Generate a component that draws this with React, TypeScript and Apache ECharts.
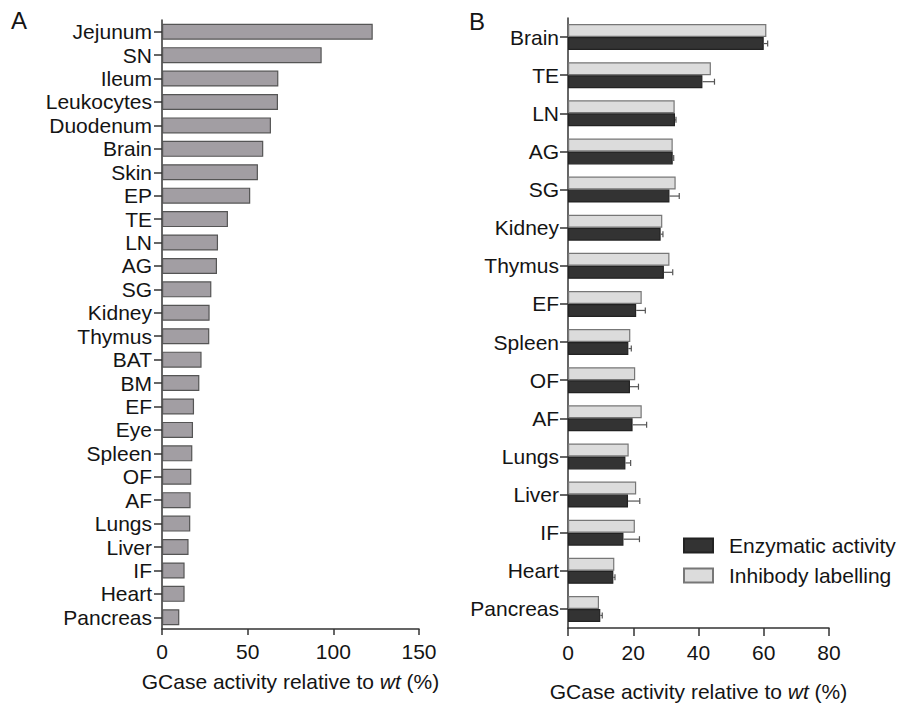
import React, { useEffect, useRef } from "react";
import * as echarts from "echarts";

const catsA = ["Jejunum", "SN", "Ileum", "Leukocytes", "Duodenum", "Brain", "Skin", "EP", "TE", "LN", "AG", "SG", "Kidney", "Thymus", "BAT", "BM", "EF", "Eye", "Spleen", "OF", "AF", "Lungs", "Liver", "IF", "Heart", "Pancreas"];
const valsA = [123, 93.2, 67.9, 67.7, 63.6, 59.1, 56.0, 51.5, 38.5, 32.7, 32.1, 28.8, 27.8, 27.6, 23.1, 21.8, 18.7, 18.1, 17.7, 17.1, 16.7, 16.5, 15.5, 13.2, 13.2, 10.1];

const catsB = ["Brain", "TE", "LN", "AG", "SG", "Kidney", "Thymus", "EF", "Spleen", "OF", "AF", "Lungs", "Liver", "IF", "Heart", "Pancreas"];
const enzymatic = [60.0, 41.2, 32.8, 32.1, 31.1, 28.4, 29.4, 20.9, 18.5, 19.0, 19.8, 17.6, 18.4, 17.0, 13.9, 9.9];
const enzymaticErr = [1.2, 3.7, 0.3, 0.3, 3.0, 0.7, 2.7, 2.8, 0.9, 2.6, 4.3, 1.6, 3.6, 4.9, 0.5, 0.6];
const inhibody = [60.8, 43.8, 32.7, 32.1, 33.0, 28.9, 31.1, 22.6, 19.1, 20.6, 22.6, 18.6, 20.9, 20.5, 14.2, 9.5];

const ticksA = [0, 50, 100, 150];
const ticksB = [0, 20, 40, 60, 80];

const FONT = "'Liberation Sans', Arial, Helvetica, sans-serif";
const TXT = "#141414";
const BAR_B = 13;

export default function App() {
  const ref = useRef<HTMLDivElement>(null);
  useEffect(() => {
    if (!ref.current) return;
    const chart = echarts.init(ref.current, undefined, { renderer: "svg" });
    const axisLine = { show: true, lineStyle: { color: "#333", width: 1.5 } };
    const axisTickY = { show: true, alignWithLabel: true, length: 8, lineStyle: { color: "#333", width: 1.5 } };
    const nameRich = {
      n: { fontSize: 21, fontFamily: FONT, color: TXT },
      i: { fontSize: 21, fontFamily: FONT, color: TXT, fontStyle: "italic" as const },
    };
    const title = "{n|GCase activity relative to }{i|wt}{n| (%)}";
    chart.setOption({
      animation: false,
      backgroundColor: "#ffffff",
      textStyle: { fontFamily: FONT },
      grid: [
        { left: 162, top: 20, width: 257, height: 609 },
        { left: 568, top: 18, width: 261, height: 615 },
      ],
      xAxis: [
        {
          gridIndex: 0, type: "value", min: ticksA[0], max: ticksA[ticksA.length - 1], interval: 50,
          axisLine, axisTick: { show: true, length: 6, lineStyle: { color: "#333", width: 1.5 } },
          splitLine: { show: false },
          axisLabel: { fontSize: 21, color: TXT, fontFamily: FONT, margin: 12 },
          name: title, nameLocation: "middle", nameGap: 42, nameTextStyle: { rich: nameRich },
        },
        {
          gridIndex: 1, type: "value", min: ticksB[0], max: ticksB[ticksB.length - 1], interval: 20,
          axisLine, axisTick: { show: true, length: 8, lineStyle: { color: "#333", width: 1.5 } },
          splitLine: { show: false },
          axisLabel: { fontSize: 21, color: TXT, fontFamily: FONT, margin: 14 },
          name: title, nameLocation: "middle", nameGap: 53, nameTextStyle: { rich: nameRich },
        },
      ],
      yAxis: [
        {
          gridIndex: 0, type: "category", data: catsA, inverse: true,
          axisLine, axisTick: axisTickY,
          axisLabel: { interval: 0, fontSize: 21, color: TXT, fontFamily: FONT, margin: 10 },
        },
        {
          gridIndex: 1, type: "category", data: catsB, inverse: true,
          axisLine, axisTick: axisTickY,
          axisLabel: { interval: 0, fontSize: 21, color: TXT, fontFamily: FONT, margin: 9 },
        },
      ],
      legend: {
        left: 683, top: 535, orient: "vertical", icon: "rect", padding: 0,
        itemWidth: 29, itemHeight: 14, itemGap: 9,
        data: ["Enzymatic activity", "Inhibody labelling"],
        textStyle: { fontSize: 21, color: TXT, fontFamily: FONT, padding: [0, 0, 0, 11] },
      },
      series: [
        {
          name: "GCase activity", type: "bar", xAxisIndex: 0, yAxisIndex: 0, data: valsA, barWidth: 16,
          itemStyle: { color: "#a29ea3", borderColor: "#555", borderWidth: 1.2 },
        },
        {
          name: "Inhibody labelling", type: "bar", xAxisIndex: 1, yAxisIndex: 1, data: inhibody,
          barWidth: BAR_B, barGap: "0%",
          itemStyle: { color: "#dcdcdc", borderColor: "#777", borderWidth: 1.2 },
        },
        {
          name: "Enzymatic activity", type: "bar", xAxisIndex: 1, yAxisIndex: 1, data: enzymatic,
          barWidth: BAR_B, barGap: "0%",
          itemStyle: { color: "#333333", borderColor: "#222", borderWidth: 1.2 },
        },
        {
          name: "err", type: "custom", xAxisIndex: 1, yAxisIndex: 1, z: 5,
          encode: { y: 0, x: 1 },
          data: enzymatic.map((v, i) => [i, v, enzymaticErr[i]]),
          renderItem: (params: any, api: any) => {
            const idx = api.value(0);
            const v = api.value(1);
            const e = api.value(2);
            const p0 = api.coord([v, idx]);
            const p1 = api.coord([v + e, idx]);
            const y = p0[1] + BAR_B / 2;
            const st = { stroke: "#555", lineWidth: 1.2 };
            return {
              type: "group",
              children: [
                { type: "line", shape: { x1: p0[0], y1: y, x2: p1[0], y2: y }, style: st },
                { type: "line", shape: { x1: p1[0], y1: y - 3, x2: p1[0], y2: y + 3 }, style: st },
              ],
            };
          },
        },
      ],
      graphic: [
        { type: "text", left: 11, top: 8, style: { text: "A", fontSize: 24, fill: TXT, fontFamily: FONT } },
        { type: "text", left: 469, top: 9, style: { text: "B", fontSize: 24, fill: TXT, fontFamily: FONT } },
      ],
    });
    return () => chart.dispose();
  }, []);
  return <div ref={ref} style={{ position: "fixed", left: 0, top: 0, width: 903, height: 707 }} />;
}
